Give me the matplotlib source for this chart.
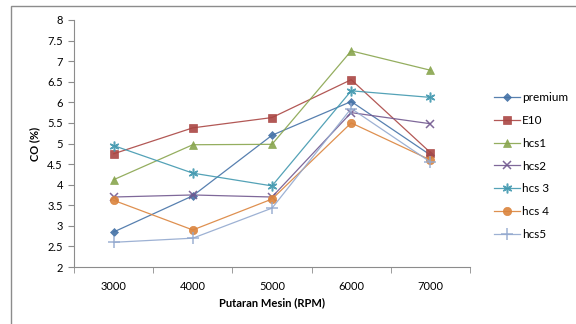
import matplotlib
matplotlib.use("Agg")
import matplotlib.pyplot as plt
from matplotlib.patches import Rectangle

plt.rcParams['font.family'] = ['Lato', 'DejaVu Sans']

rpm = ['3000', '4000', '5000', '6000', '7000']
premium = [2.85, 3.73, 5.2, 6.02, 4.72]
e10 = [4.75, 5.38, 5.63, 6.55, 4.78]
hcs1 = [4.12, 4.97, 4.98, 7.25, 6.78]
hcs2 = [3.7, 3.75, 3.7, 5.75, 5.48]
hcs3 = [4.95, 4.28, 3.97, 6.28, 6.12]
hcs4 = [3.62, 2.9, 3.65, 5.5, 4.6]
hcs5 = [2.6, 2.7, 3.43, 5.85, 4.55]

series = [
    ('premium', premium, '#4572A7', 'D', 4),
    ('E10', e10, '#AA4643', 's', 6),
    ('hcs1', hcs1, '#89A54E', '^', 6),
    ('hcs2', hcs2, '#71588F', 'x', 6),
    ('hcs 3', hcs3, '#4198AF', (6, 2, 0), 7),
    ('hcs 4', hcs4, '#DB843D', 'o', 6),
    ('hcs5', hcs5, '#93A9CF', '+', 8),
]

fig = plt.figure(figsize=(5.76, 3.24), dpi=100)
# chart area border (Excel style)
fig.patches.append(Rectangle((11/576, -0.1), 1.2, 1 - 6/324 + 0.1, transform=fig.transFigure,
                             fill=False, edgecolor='#8c8c8c', linewidth=1))

ax = fig.add_axes([74/576, 1 - 267/324, (470 - 74)/576, (267 - 20)/324])
x = list(range(1, len(rpm) + 1))
for name, vals, col, mk, ms in series:
    ax.plot(x, vals, color=col, marker=mk, markersize=ms, linewidth=0.9, alpha=0.9,
            markeredgewidth=1.1 if mk in ('x', '+', (6, 2, 0)) else 0.5,
            markeredgecolor=col, label=name)

ax.set_xlim(0.5, len(rpm) + 0.5)
ax.set_ylim(2, 8)
ax.set_yticks([2, 2.5, 3, 3.5, 4, 4.5, 5, 5.5, 6, 6.5, 7, 7.5, 8])
ax.set_yticklabels(['2', '2.5', '3', '3.5', '4', '4.5', '5', '5.5', '6', '6.5', '7', '7.5', '8'])
ax.set_xticks(x)
ax.set_xticklabels(rpm)
ax.set_xticks([i + 0.5 for i in range(0, len(rpm) + 1)], minor=True)
ax.tick_params(axis='x', which='major', length=0, pad=10, labelsize=8)
ax.tick_params(axis='x', which='minor', length=4, color='#8c8c8c')
ax.tick_params(axis='y', length=4, color='#8c8c8c', labelsize=8, pad=4)
for s in ['top', 'right']:
    ax.spines[s].set_visible(False)
for s in ['left', 'bottom']:
    ax.spines[s].set_color('#8c8c8c')

ax.set_ylabel('CO (%)', fontsize=8, fontweight='bold', labelpad=5)
ax.set_xlabel('Putaran Mesin (RPM)', fontsize=8, fontweight='bold', labelpad=4)

fig.legend(loc='center left', bbox_to_anchor=(489/576, 1 - 166/324), frameon=False,
           fontsize=8.5, handlelength=2.2, handletextpad=0.2, labelspacing=1.0,
           borderaxespad=0)

fig.savefig('out.png', dpi=100)
